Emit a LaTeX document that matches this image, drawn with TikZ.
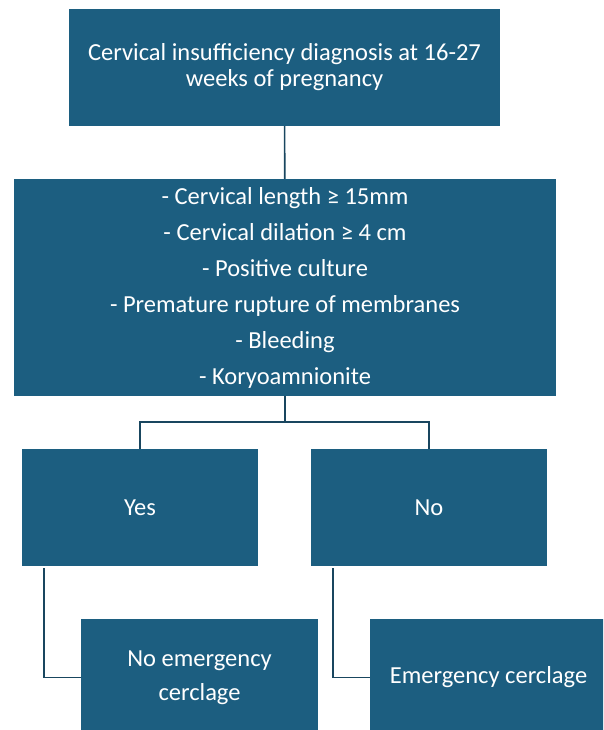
\documentclass[tikz,border=0pt]{standalone}
\usepackage{fontspec}
\setmainfont{Carlito}
\definecolor{boxblue}{RGB}{28,94,128}
\definecolor{linkblue}{RGB}{25,70,95}
\begin{document}
\begin{tikzpicture}[%
  x = 1pt, y = 1pt,
  box/.style = {rectangle, fill = boxblue, text = white, inner sep = 0pt,
    align = center, font = \fontsize{24.5}{26}\selectfont},
  link/.style = {draw = linkblue, line width = 1.6pt}]
  \useasboundingbox (0, 0) rectangle (603, 730);
  \begin{scope}
  \clip (0, 0) rectangle (603, 730);
  \node[box, minimum width = 431, minimum height = 117] (diag) at (284.5, 662.5)
    {Cervical insufficiency diagnosis at 16-27\\weeks of pregnancy};
  \node[box, minimum width = 542, minimum height = 217] (crit) at (285, 442.5)
    {- Cervical length ≥ 15mm\\[10pt] - Cervical dilation ≥ 4 cm\\[10pt]
     - Positive culture\\[10pt] - Premature rupture of membranes\\[10pt]
     - Bleeding\\[10pt] - Koryoamnionite};
  \node[box, minimum width = 236, minimum height = 117] (yes) at (140, 222.5) {Yes};
  \node[box, minimum width = 236, minimum height = 117] (no)  at (429, 222.5) {No};
  \node[box, minimum width = 237, minimum height = 117] (nocerc) at (199.5, 52.5)
    {No emergency\\[8pt]cerclage};
  \node[box, minimum width = 237, minimum height = 117] (cerc) at (488.5, 52.5)
    {Emergency cerclage};
  \end{scope}

  \draw[link] (diag) -- (crit);
  \coordinate (fork) at ([yshift = -26]crit.south);
  \draw[link] (crit.south) -- (fork) -| (yes.north);
  \draw[link] (fork) -| (no.north);
  \draw[link] ([xshift = 22, yshift = -2]yes.south west) |- (nocerc.west);
  \draw[link] ([xshift = 22, yshift = -2]no.south west) |- (cerc.west);
\end{tikzpicture}
\end{document}
